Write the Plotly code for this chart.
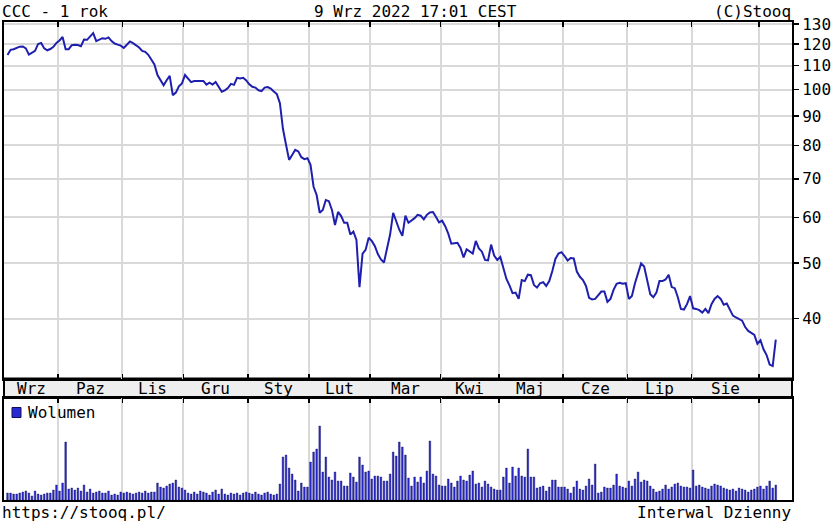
import plotly.graph_objects as go

# ---------------- data ----------------
month_labels = ["Wrz", "Paz", "Lis", "Gru", "Sty", "Lut", "Mar", "Kwi", "Maj", "Cze", "Lip", "Sie", ""]
days_per_month = [17, 21, 20, 21, 20, 20, 23, 19, 21, 21, 21, 22, 6]

price = [
    114.8, 117.2, 117.5, 118.1, 118.7, 118.8, 117.9, 115.0, 115.9, 116.7,
    120.0, 120.5, 117.9, 117.0, 117.6, 118.6, 120.5, 121.7, 123.4, 117.5,
    117.5, 119.4, 119.6, 119.5, 118.9, 122.1, 122.0, 123.9, 125.3, 121.4,
    122.0, 122.8, 122.5, 123.2, 121.4, 120.2, 119.7, 119.2, 118.1, 119.7,
    121.2, 120.4, 119.4, 118.3, 116.7, 116.3, 114.9, 112.6, 110.6, 106.0,
    103.7, 101.7, 103.8, 105.6, 97.8, 98.8, 101.3, 102.5, 106.0, 104.4,
    103.0, 103.5, 103.5, 103.5, 103.5, 102.0, 102.8, 102.0, 103.1, 101.1,
    99.1, 99.7, 100.6, 102.3, 101.9, 104.8, 104.5, 104.8, 103.7, 102.1,
    101.1, 100.8, 99.7, 99.4, 100.8, 101.0, 100.4, 99.2, 98.2, 94.7,
    85.4, 80.2, 75.5, 77.0, 78.6, 78.1, 76.3, 75.7, 76.0, 74.0,
    67.8, 65.6, 61.1, 61.8, 64.3, 64.0, 61.8, 58.2, 61.3, 60.3,
    58.7, 58.7, 56.0, 56.7, 54.8, 45.4, 51.9, 52.7, 55.3, 54.6,
    53.5, 51.8, 50.7, 50.1, 52.9, 56.0, 61.1, 58.9, 57.1, 55.7,
    60.4, 58.7, 59.2, 59.8, 60.6, 60.4, 59.5, 60.6, 61.2, 61.3,
    60.1, 58.8, 59.2, 57.9, 56.2, 54.0, 54.1, 54.2, 53.1, 51.1,
    52.8, 52.4, 51.9, 54.6, 53.0, 52.3, 50.6, 50.5, 53.8, 51.5,
    50.6, 51.2, 48.8, 46.9, 45.7, 44.3, 44.4, 43.3, 46.7, 46.5,
    47.7, 47.6, 45.8, 45.3, 46.1, 46.3, 45.6, 46.5, 48.4, 50.8,
    51.9, 52.2, 51.4, 50.5, 51.0, 50.9, 48.3, 47.3, 46.7, 45.6,
    43.5, 43.2, 43.3, 44.0, 44.6, 44.6, 42.8, 43.3, 44.9, 46.0,
    46.2, 46.0, 46.1, 43.3, 43.8, 46.1, 48.1, 49.9, 49.3, 46.5,
    44.1, 43.6, 44.4, 46.5, 46.5, 46.8, 47.7, 45.4, 45.2, 43.6,
    41.6, 41.5, 42.4, 43.8, 41.7, 41.6, 41.4, 41.0, 41.6, 40.9,
    42.4, 43.3, 43.8, 43.3, 42.3, 42.5, 41.5, 40.5, 40.2, 39.9,
    39.7, 38.7, 38.1, 37.8, 37.5, 36.2, 36.7, 35.4, 34.6, 33.3,
    33.1, 36.8,
]

# volume in thousands of shares
volume = [
    # Wrz 2021
    70, 70, 60, 60, 70, 80, 90, 70, 40, 90, 60, 50, 60, 70, 70, 100, 150,
    # Paz
    90, 170, 580, 110, 120, 100, 120, 90, 150, 80, 110, 70, 80, 90, 70, 70, 90, 50, 60, 50, 80,
    # Lis
    70, 80, 70, 60, 70, 80, 70, 90, 70, 80, 80, 170, 130, 120, 140, 160, 170, 200, 130, 120,
    # Gru
    100, 70, 60, 80, 60, 90, 80, 70, 50, 80, 100, 60, 110, 60, 50, 70, 60, 70, 50, 70, 80,
    # Sty
    70, 60, 80, 60, 50, 70, 80, 60, 50, 60, 160, 430, 450, 320, 260, 200, 90, 170, 130, 130,
    # Lut
    380, 480, 510, 740, 280, 430, 230, 200, 280, 190, 190, 140, 140, 270, 230, 180, 430, 350, 280, 290,
    # Mar
    210, 240, 240, 230, 190, 190, 260, 480, 440, 580, 530, 450, 220, 140, 230, 180, 230, 170, 290, 590, 260, 240, 150,
    # Kwi
    140, 140, 210, 170, 130, 190, 240, 200, 190, 250, 290, 160, 170, 130, 190, 160, 130, 110, 100,
    # Maj
    100, 230, 320, 170, 330, 240, 320, 240, 230, 510, 230, 230, 120, 130, 140, 90, 130, 200, 200, 130, 130,
    # Cze
    130, 110, 70, 130, 190, 110, 100, 140, 210, 150, 360, 70, 80, 130, 120, 120, 150, 260, 140, 130, 120,
    # Lip
    190, 140, 210, 280, 180, 200, 190, 140, 110, 80, 90, 110, 150, 110, 130, 160, 170, 140, 130, 130, 120,
    # Sie
    300, 140, 150, 130, 120, 110, 140, 160, 150, 140, 120, 110, 100, 110, 90, 120, 110, 100, 80, 100, 110, 130,
    # Wrz 2022
    140, 110, 140, 190, 120, 150,
]

price_ticks = [40, 50, 60, 70, 80, 90, 100, 110, 120, 130]

# ---------------- derived positions ----------------
days = list(range(len(price)))
starts = []
acc = 0
for n in days_per_month:
    starts.append(acc)
    acc += n
boundaries = [s - 0.5 for s in starts[1:]]
centers = [s + (n - 1) / 2 for s, n in zip(starts, days_per_month)]

FONT = "DejaVu Sans Mono"
LINE_BLUE = "#1f1fae"
BAR_BLUE = "#2a2ad2"
GRID = "#d9d9d9"

W, H = 831, 526
ML, MR, MT, MB = 4, 39, 22, 26
plot_h = H - MT - MB
plot_w = W - ML - MR
vol_top_px = 398
band_top_px = 378.5
vol_dom = [0, (H - MB - vol_top_px) / plot_h]
band_dom = [vol_dom[1], (H - MB - band_top_px) / plot_h]
price_dom = [band_dom[1], 1]

fig = go.Figure()
fig.add_trace(go.Scatter(
    x=days, y=price, mode="lines",
    line=dict(color=LINE_BLUE, width=2),
    xaxis="x", yaxis="y", showlegend=False, hoverinfo="skip",
))
fig.add_trace(go.Bar(
    x=days, y=volume, width=0.55,
    marker=dict(color=BAR_BLUE, line=dict(color="#10105a", width=0.4)),
    xaxis="x2", yaxis="y2", showlegend=False, hoverinfo="skip",
))

xcommon = dict(
    range=[-1.14, 256.3],
    tickvals=boundaries, ticktext=[""] * len(boundaries),
    showticklabels=False,
    ticks="inside", ticklen=5, tickwidth=1.5, tickcolor="black",
    showgrid=True, gridcolor=GRID, gridwidth=2,
    showline=True, linecolor="black", linewidth=2,
    zeroline=False, fixedrange=True,
)

fig.update_layout(
    width=W, height=H,
    margin=dict(l=ML, r=MR, t=MT, b=MB, pad=0),
    paper_bgcolor="white", plot_bgcolor="white",
    font=dict(family=FONT, size=16, color="black"),
    bargap=0,
    xaxis=dict(**xcommon, anchor="y", side="bottom", mirror="ticks"),
    xaxis2=dict(**xcommon, anchor="y2", side="top", mirror=True, matches="x"),
    yaxis=dict(
        type="log", domain=price_dom,
        range=[1.4983, 2.1173],
        side="right", tickvals=price_ticks, ticktext=[str(v) for v in price_ticks],
        ticks="outside", ticklen=5, tickwidth=1.5, tickcolor="black",
        tickfont=dict(family=FONT, size=16, color="black"),
        showgrid=True, gridcolor=GRID, gridwidth=2,
        showline=True, linecolor="black", linewidth=2, mirror=True,
        zeroline=False, fixedrange=True, automargin=False,
    ),
    yaxis2=dict(
        domain=vol_dom, range=[0, 1020],
        showticklabels=False, ticks="", showgrid=False,
        showline=True, linecolor="black", linewidth=2, mirror=True,
        zeroline=False, fixedrange=True,
    ),
)

# month band between panels
fig.add_shape(type="rect", xref="paper", yref="paper",
              x0=0, x1=1, y0=band_dom[0], y1=band_dom[1],
              fillcolor="#eeeeee", line=dict(color="black", width=2), layer="below")

annotations = []
band_mid = (band_dom[0] + band_dom[1]) / 2
for lab, c in zip(month_labels, centers):
    if lab:
        annotations.append(dict(x=c, y=band_mid, xref="x", yref="paper", text=lab,
                                showarrow=False, xanchor="center", yanchor="middle",
                                font=dict(family=FONT, size=16)))

annotations += [
    dict(x=0, y=1, xref="paper", yref="paper", text="CCC - 1 rok", showarrow=False,
         xanchor="left", yanchor="bottom", xshift=-4, yshift=-1),
    dict(x=(W / 2 - ML) / plot_w, y=1, xref="paper", yref="paper",
         text="9 Wrz 2022 17:01 CEST", showarrow=False,
         xanchor="center", yanchor="bottom", yshift=-1),
    dict(x=1, y=1, xref="paper", yref="paper", text="(C)Stooq", showarrow=False,
         xanchor="right", yanchor="bottom", xshift=1, yshift=-1),
    dict(x=0, y=0, xref="paper", yref="paper", text="https://stooq.pl/", showarrow=False,
         xanchor="left", yanchor="top", xshift=-4, yshift=-1),
    dict(x=1, y=0, xref="paper", yref="paper", text="Interwal Dzienny", showarrow=False,
         xanchor="right", yanchor="top", xshift=1, yshift=-1),
    dict(x=(26 - ML) / plot_w, y=(H - MB - 412.5) / plot_h, xref="paper", yref="paper",
         text="Wolumen", showarrow=False, xanchor="left", yanchor="middle"),
]
fig.update_layout(annotations=annotations)

# legend swatch for volume
fig.add_shape(type="rect", xref="paper", yref="paper",
              x0=(12 - ML) / plot_w, x1=(21 - ML) / plot_w,
              y0=(H - MB - 417.5) / plot_h, y1=(H - MB - 407.5) / plot_h,
              fillcolor=BAR_BLUE, line=dict(color="#10105a", width=1))

fig.write_html(
    "out.html",
    config={"displayModeBar": False, "staticPlot": True},
    post_script="document.body.style.margin='0';document.body.style.overflow='hidden';",
)
